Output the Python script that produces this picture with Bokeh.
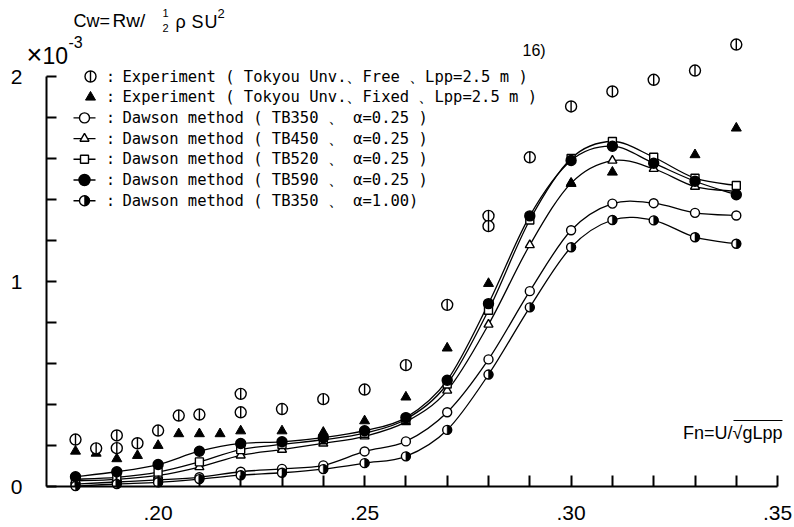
import math
from bokeh.plotting import figure
from bokeh.models import Range1d, FixedTicker, CustomJSTickFormatter, Label, LinearAxis
from bokeh.embed import file_html
from bokeh.resources import INLINE

# ---------------- data ----------------
fn_calc = [0.18, 0.19, 0.20, 0.21, 0.22, 0.23, 0.24, 0.25, 0.26,
           0.27, 0.28, 0.29, 0.30, 0.31, 0.32, 0.33, 0.34]
cw_tb350_a025 = [0.012, 0.022, 0.032, 0.045, 0.072, 0.086, 0.103, 0.171, 0.220,
                 0.362, 0.620, 0.953, 1.250, 1.380, 1.382, 1.335, 1.322]
cw_tb450_a025 = [0.028, 0.035, 0.054, 0.095, 0.152, 0.180, 0.210, 0.245, 0.315,
                 0.468, 0.790, 1.178, 1.480, 1.590, 1.550, 1.463, 1.440]
cw_tb520_a025 = [0.035, 0.045, 0.070, 0.120, 0.180, 0.205, 0.228, 0.260, 0.328,
                 0.500, 0.860, 1.300, 1.600, 1.683, 1.606, 1.504, 1.468]
cw_tb590_a025 = [0.048, 0.072, 0.107, 0.172, 0.210, 0.218, 0.238, 0.272, 0.336,
                 0.518, 0.892, 1.320, 1.590, 1.660, 1.577, 1.489, 1.423]
cw_tb350_a100 = [0.002, 0.012, 0.020, 0.036, 0.055, 0.067, 0.085, 0.114, 0.147,
                 0.276, 0.546, 0.874, 1.167, 1.300, 1.298, 1.216, 1.184]

fn_free = [0.18, 0.185, 0.19, 0.19, 0.195, 0.20, 0.205, 0.21, 0.22, 0.22, 0.23,
           0.24, 0.25, 0.26, 0.27, 0.28, 0.28, 0.29, 0.30, 0.31, 0.32, 0.33, 0.34]
cw_free = [0.229, 0.186, 0.249, 0.187, 0.211, 0.273, 0.346, 0.351, 0.452, 0.362, 0.378,
           0.426, 0.473, 0.592, 0.886, 1.320, 1.270, 1.606, 1.854, 1.927, 1.984, 2.029, 2.156]

fn_fixed = [0.18, 0.185, 0.19, 0.195, 0.20, 0.205, 0.21, 0.215, 0.22, 0.23, 0.24,
            0.25, 0.26, 0.27, 0.28, 0.30, 0.31, 0.33, 0.34]
cw_fixed = [0.172, 0.162, 0.135, 0.151, 0.200, 0.257, 0.257, 0.257, 0.271, 0.271, 0.264,
            0.320, 0.436, 0.675, 0.990, 1.478, 1.533, 1.618, 1.748]

x_ticks = [0.20, 0.25, 0.30, 0.35]
x_tick_labels = [".20", ".25", ".30", ".35"]
x_minor_ticks = [0.18, 0.19, 0.21, 0.22, 0.23, 0.24, 0.26, 0.27, 0.28, 0.29,
                 0.31, 0.32, 0.33, 0.34]
y_ticks = [0.0, 0.2, 0.4, 0.6, 0.8, 1.0, 1.2, 1.4, 1.6, 1.8, 2.0]
y_label_ticks = [0.0, 1.0, 2.0]
y_tick_labels = ["0", "1", "2"]

legend_labels = [
    "Experiment ( Tokyou Unv.、Free  、Lpp=2.5 m )",
    "Experiment ( Tokyou Unv.、Fixed 、Lpp=2.5 m )",
    "Dawson method ( TB350 、 α=0.25 )",
    "Dawson method ( TB450 、 α=0.25 )",
    "Dawson method ( TB520 、 α=0.25 )",
    "Dawson method ( TB590 、 α=0.25 )",
    "Dawson method ( TB350 、 α=1.00)",
]

# ---------------- layout helpers (pixel -> data) ----------------
def fx(px):
    return 0.18 + (px - 75.0) / 4130.0

def fy(py):
    return (486.0 - py) / 205.0

FONT = "Liberation Sans"
MONO = "DejaVu Sans Mono"

p = figure(width=794, height=527,
           x_range=Range1d(fx(0), fx(794)), y_range=Range1d(fy(527), fy(0)),
           x_axis_location=None, y_axis_location=None,
           min_border_left=0, min_border_right=0, min_border_top=0, min_border_bottom=0,
           toolbar_location=None, output_backend="svg")
p.outline_line_color = None
p.background_fill_color = "white"
p.border_fill_color = "white"
p.xgrid.grid_line_color = None
p.ygrid.grid_line_color = None

xfmt = CustomJSTickFormatter(args=dict(t=x_ticks, l=x_tick_labels), code="""
for (let i = 0; i < t.length; i++) { if (Math.abs(tick - t[i]) < 1e-9) return l[i]; }
return "";""")
yfmt = CustomJSTickFormatter(args=dict(t=y_label_ticks, l=y_tick_labels), code="""
for (let i = 0; i < t.length; i++) { if (Math.abs(tick - t[i]) < 1e-9) return l[i]; }
return "";""")

xaxis = LinearAxis(fixed_location=0, bounds=(fx(46), 0.35),
                   ticker=FixedTicker(ticks=x_ticks, minor_ticks=x_minor_ticks),
                   formatter=xfmt,
                   major_tick_in=11, major_tick_out=0, minor_tick_in=11, minor_tick_out=0,
                   axis_line_width=2, major_tick_line_width=2, minor_tick_line_width=2,
                   major_label_standoff=19, major_label_text_font=FONT,
                   major_label_text_font_size="21px", major_label_text_color="black")
yaxis = LinearAxis(fixed_location=fx(46), bounds=(0, 2),
                   ticker=FixedTicker(ticks=y_ticks, minor_ticks=[]),
                   formatter=yfmt,
                   major_tick_in=10, major_tick_out=0, minor_tick_in=0, minor_tick_out=0,
                   axis_line_width=2, major_tick_line_width=2,
                   major_label_standoff=24, major_label_text_font=FONT,
                   major_label_text_font_size="21px", major_label_text_color="black")
p.add_layout(xaxis, "below")
p.add_layout(yaxis, "left")

# ---------------- smooth curves through the computed points ----------------
def bezier_cols(xs, ys):
    n = len(xs)
    X = [xs[0]] + list(xs) + [xs[-1]]
    Y = [ys[0]] + list(ys) + [ys[-1]]
    d = dict(x0=[], y0=[], x1=[], y1=[], cx0=[], cy0=[], cx1=[], cy1=[])
    for i in range(n - 1):
        x0, y0 = X[i], Y[i]
        x1, y1 = X[i + 1], Y[i + 1]
        x2, y2 = X[i + 2], Y[i + 2]
        x3, y3 = X[i + 3], Y[i + 3]
        d["x0"].append(x1); d["y0"].append(y1)
        d["x1"].append(x2); d["y1"].append(y2)
        d["cx0"].append(x1 + (x2 - x0) / 6.0); d["cy0"].append(y1 + (y2 - y0) / 6.0)
        d["cx1"].append(x2 - (x3 - x1) / 6.0); d["cy1"].append(y2 - (y3 - y1) / 6.0)
    return d

for series in [cw_tb350_a025, cw_tb450_a025, cw_tb520_a025, cw_tb590_a025, cw_tb350_a100]:
    b = bezier_cols(fn_calc, series)
    p.bezier(x0=b["x0"], y0=b["y0"], x1=b["x1"], y1=b["y1"],
             cx0=b["cx0"], cy0=b["cy0"], cx1=b["cx1"], cy1=b["cy1"],
             line_color="black", line_width=1.3)

LW = 1.4

def free_marker(xs, ys):
    p.scatter(xs, ys, marker="circle", size=11, fill_color="white",
              line_color="black", line_width=LW)
    p.scatter(xs, ys, marker="dash", size=11, angle=math.pi / 2,
              line_color="black", line_width=LW)

def half_marker(xs, ys, size, r):
    p.scatter(xs, ys, marker="circle", size=size, fill_color="white",
              line_color="black", line_width=LW)
    p.wedge(xs, ys, radius=r, radius_units="screen",
            start_angle=-math.pi / 2, end_angle=math.pi / 2,
            fill_color="black", line_color="black", line_width=0.5)

# markers of computed series
p.scatter(fn_calc, cw_tb350_a025, marker="circle", size=9, fill_color="white",
          line_color="black", line_width=LW)
p.scatter(fn_calc, cw_tb450_a025, marker="triangle", size=9, fill_color="white",
          line_color="black", line_width=LW)
p.scatter(fn_calc, cw_tb520_a025, marker="square", size=8, fill_color="white",
          line_color="black", line_width=LW)
p.scatter(fn_calc, cw_tb590_a025, marker="circle", size=10, fill_color="black",
          line_color="black", line_width=LW)
half_marker(fn_calc, cw_tb350_a100, 9, 4.5)

# experiments
p.scatter(fn_fixed, cw_fixed, marker="triangle", size=10, fill_color="black",
          line_color="black", line_width=1)
free_marker(fn_free, cw_free)

# ---------------- legend (drawn by hand) ----------------
rows_py = [76 + 20.7 * i for i in range(7)]
free_marker([fx(90)], [fy(rows_py[0])])
p.scatter([fx(90)], [fy(rows_py[1])], marker="triangle", size=10, fill_color="black",
          line_color="black", line_width=1)
seg_y = [fy(r) for r in rows_py[2:]]
p.segment(x0=[fx(73)] * 5, y0=seg_y, x1=[fx(95)] * 5, y1=seg_y,
          line_color="black", line_width=1.4)
mx = fx(84)
p.scatter([mx], [seg_y[0]], marker="circle", size=10, fill_color="white", line_color="black", line_width=LW)
p.scatter([mx], [seg_y[1]], marker="triangle", size=9, fill_color="white", line_color="black", line_width=LW)
p.scatter([mx], [seg_y[2]], marker="square", size=8, fill_color="white", line_color="black", line_width=LW)
p.scatter([mx], [seg_y[3]], marker="circle", size=11, fill_color="black", line_color="black", line_width=LW)
half_marker([mx], [seg_y[4]], 10, 5)

for r, lab in zip(rows_py, legend_labels):
    p.add_layout(Label(x=fx(110), y=fy(r), text=":", text_align="center", text_baseline="middle",
                       text_font=MONO, text_font_size="15px", text_color="black"))
    p.add_layout(Label(x=fx(122), y=fy(r), text=lab, text_align="left", text_baseline="middle",
                       text_font=MONO, text_font_size="15.5px", text_color="black"))

# ---------------- other texts ----------------
def lab(px, py, text, size, align="left", font=FONT):
    p.add_layout(Label(x=fx(px), y=fy(py), text=text, text_align=align, text_baseline="middle",
                       text_font=font, text_font_size=size, text_color="black"))

lab(73, 20, "Cw=", "18px")
lab(112, 20, "Rw/", "19px")
lab(165, 12, "1", "11px", "center")
lab(165, 27, "2", "11px", "center")
lab(175, 21, "ρ", "18px")
lab(191, 21, "S", "18px")
lab(204, 21, "U", "18px")
lab(217, 13, "2", "13px")
lab(26, 54, "×", "27px")
lab(42, 55, "10", "23px")
lab(68, 41, "-3", "16px")
lab(522, 50, "16)", "16px")
lab(782, 432, "Fn=U/√gLpp", "18px", "right")
p.segment(x0=[fx(733)], y0=[fy(420)], x1=[fx(782)], y1=[fy(420)], line_color="black", line_width=1.2)

open("out.html", "w").write(file_html(p, INLINE))
